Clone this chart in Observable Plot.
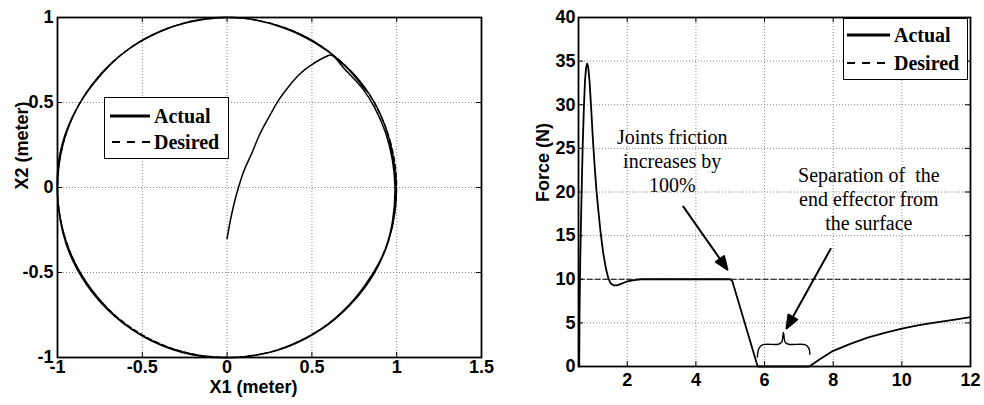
<!DOCTYPE html>
<html><head><meta charset="utf-8">
<script src="https://cdn.jsdelivr.net/npm/d3@7"></script>
<script src="https://cdn.jsdelivr.net/npm/@observablehq/plot@0.6"></script>
<style>
html,body{margin:0;padding:0;background:#fff;}
#wrap{position:relative;width:984px;height:405px;overflow:hidden;background:#fff;}
#left{position:absolute;left:0;top:0;}
#right{position:absolute;left:500px;top:0;}
#wrap svg{overflow:visible;}
.legend{position:absolute;background:#fff;border:1.5px solid #000;box-sizing:border-box;font:bold 20px "Liberation Serif","Times New Roman",serif;color:#000;}
.legend .row{position:absolute;left:0;right:0;height:26px;}
.legend .row svg{position:absolute;top:0;}
.legend .row span{position:absolute;top:0;line-height:26px;white-space:nowrap;}
</style></head>
<body>
<div id="wrap">
  <div id="left"></div>
  <div id="right"></div>
</div>
<script>
// ---------- Left panel data ----------
const leftXTicks = [-1, -0.5, 0, 0.5, 1, 1.5];
const leftYTicks = [-1, -0.5, 0, 0.5, 1];
// desired circular path
const desiredX1 = [1, 0.966, 0.866, 0.707, 0.5, 0.259, 0, -0.259, -0.5, -0.707, -0.866, -0.966, -1, -0.966, -0.866, -0.707, -0.5, -0.259, 0, 0.259, 0.5, 0.707, 0.866, 0.966];
const desiredX2 = [0, 0.259, 0.5, 0.707, 0.866, 0.966, 1, 0.966, 0.866, 0.707, 0.5, 0.259, 0, -0.259, -0.5, -0.707, -0.866, -0.966, -1, -0.966, -0.866, -0.707, -0.5, -0.259];
// actual trajectory (approach + loops)
const actualX1 = [0, 0.018, 0.04, 0.067, 0.1, 0.145, 0.194, 0.25, 0.303, 0.36, 0.411, 0.46, 0.509, 0.578, 0.617,
  0.69, 0.80, 0.87, 0.935, 0.975, 0.99, 0.975, 0.93, 0.85, 0.72, 0.55, 0.3, 0.05, -0.2, -0.45, -0.66, -0.83, -0.95, -1.0, -0.985, -0.91, -0.78, -0.6, -0.38, -0.13, 0.1, 0.33, 0.52, 0.66,
  0.78, 0.89, 0.96, 0.995, 0.99, 0.95, 0.87, 0.74, 0.57, 0.35, 0.1, -0.15, -0.4, -0.62, -0.8, -0.93, -0.995, -0.99, -0.93, -0.8, -0.62, -0.4, -0.15, 0.1, 0.35, 0.55, 0.7, 0.82];
const actualX2 = [-0.3, -0.2, -0.1, 0.0, 0.1, 0.2, 0.316, 0.42, 0.513, 0.59, 0.65, 0.695, 0.729, 0.768, 0.778,
  0.70, 0.58, 0.47, 0.32, 0.16, 0, -0.2, -0.37, -0.52, -0.69, -0.835, -0.955, -1.0, -0.985, -0.9, -0.76, -0.57, -0.33, -0.05, 0.2, 0.42, 0.62, 0.8, 0.925, 0.99, 0.995, 0.94, 0.85, 0.75,
  0.63, 0.46, 0.27, 0.06, -0.14, -0.32, -0.5, -0.675, -0.825, -0.94, -0.995, -0.99, -0.92, -0.79, -0.6, -0.37, -0.1, 0.14, 0.37, 0.6, 0.785, 0.915, 0.99, 0.995, 0.935, 0.835, 0.71, 0.57];

// ---------- Right panel data ----------
const rightXTicks = [2, 4, 6, 8, 10, 12];
const rightYTicks = [0, 5, 10, 15, 20, 25, 30, 35, 40];
const forceTime = [0.6, 0.61, 0.63, 0.66, 0.7, 0.74, 0.77, 0.8, 0.83, 0.86, 0.9, 0.95, 1.0, 1.05, 1.1, 1.16, 1.22, 1.3, 1.38, 1.45, 1.52, 1.6, 1.7, 1.8, 1.9, 2.0, 2.2, 2.4, 3.0, 4.0, 5.0, 5.06, 5.8, 6.5, 7.3, 7.6, 8, 8.5, 9, 9.5, 10, 10.5, 11, 11.5, 12];
const forceActual = [0, 6, 12, 18, 25, 30, 32.8, 34.2, 34.7, 34.4, 32.8, 29.5, 26, 23, 20.3, 17.8, 15.5, 13, 11.2, 10.1, 9.5, 9.3, 9.3, 9.45, 9.6, 9.75, 9.9, 10, 10, 10, 10, 9.8, 0, 0, 0, 0.8, 1.8, 2.6, 3.3, 3.85, 4.35, 4.75, 5.05, 5.35, 5.65];
const desiredTime = [0.6, 12];
const desiredForce = [10, 10];
// annotations
const noteText = ["Joints friction\nincreases by\n100%", "Separation of  the\nend effector from\nthe surface"];
const noteX = [3.31, 9.04];
const noteY = [23.6, 19.3];
const arrowTipX = [4.92, 6.64];
const arrowTipY = [11.1, 4.36];
const arrowLen = [77, 91];
const arrowRot = [145, 209];
const braceX = [5.79, 5.84, 5.95, 6.4, 6.5, 6.55, 6.6, 6.7, 7.18, 7.29, 7.32];
const braceY = [1.1, 2.1, 2.5, 2.55, 2.8, 3.9, 2.8, 2.55, 2.5, 2.1, 1.4];

const fmt = d => String(d);
const baseStyle = {fontFamily: '"Liberation Sans", Arial, sans-serif', fontSize: "18px", fontWeight: "bold", color: "#000", background: "#fff", overflow: "visible"};
const gridOpts = {stroke: "#888", strokeOpacity: 1, strokeDasharray: "1,2", strokeWidth: 1};
const serif = '"Liberation Serif", "Times New Roman", serif';

// ---------- Left plot ----------
const desiredCircle = desiredX1.map((x, i) => ({x, y: desiredX2[i]}));
const actualPath = actualX1.map((x, i) => ({x, y: actualX2[i]}));
const LW = 500, LH = 405, Lml = 57, Lmr = 19, Lmt = 17, Lmb = 48;
const Lpw = LW - Lml - Lmr, Lph = LH - Lmt - Lmb;
const left = Plot.plot({
  width: LW, height: LH, marginLeft: Lml, marginRight: Lmr, marginTop: Lmt, marginBottom: Lmb,
  x: {domain: [-1, 1.5]}, y: {domain: [-1, 1]},
  style: baseStyle,
  marks: [
    Plot.gridX(leftXTicks.slice(1, -1), gridOpts),
    Plot.gridY(leftYTicks.slice(1, -1), gridOpts),
    Plot.tickX(leftXTicks, {x: d => d, insetTop: Lph - 5, stroke: "#000"}),
    Plot.tickX(leftXTicks, {x: d => d, insetBottom: Lph - 5, stroke: "#000"}),
    Plot.tickY(leftYTicks, {y: d => d, insetRight: Lpw - 5, stroke: "#000"}),
    Plot.tickY(leftYTicks, {y: d => d, insetLeft: Lpw - 5, stroke: "#000"}),
    Plot.line(desiredCircle, {x: "x", y: "y", curve: "catmull-rom-closed", stroke: "#000", strokeWidth: 1.2, strokeDasharray: "5,3"}),
    Plot.line(actualPath, {x: "x", y: "y", curve: "catmull-rom", stroke: "#000", strokeWidth: 1.5}),
    Plot.axisX(leftXTicks, {tickSize: 0, tickPadding: 3, tickFormat: fmt, label: null}),
    Plot.axisY(leftYTicks, {tickSize: 0, tickPadding: 4, tickFormat: fmt, label: null}),
    Plot.frame({stroke: "#000", strokeWidth: 1.8}),
    Plot.text(["X1 (meter)"], {text: d => d, frameAnchor: "bottom", dy: 35, dx: -16, fontSize: 18, fontWeight: "bold"}),
    Plot.text(["X2 (meter)"], {text: d => d, frameAnchor: "left", rotate: -90, dx: -35, dy: 2, fontSize: 18, fontWeight: "bold"})
  ]
});
document.getElementById("left").appendChild(left);

// ---------- Right plot ----------
const forceData = forceTime.map((t, i) => ({t, f: forceActual[i]}));
const desiredData = desiredTime.map((t, i) => ({t, f: desiredForce[i]}));
const notes = noteText.map((s, i) => ({s, x: noteX[i], y: noteY[i]}));
const arrows = arrowTipX.map((x, i) => ({x, y: arrowTipY[i], len: arrowLen[i], rot: arrowRot[i]}));
const brace = braceX.map((x, i) => ({x, y: braceY[i]}));
const arrowShape = {
  draw(context, l) {
    const h = 13, w = 5;
    context.moveTo(0, 0);
    context.lineTo(0, -l + h);
    context.moveTo(0, -l);
    context.lineTo(w, -l + h);
    context.lineTo(-w, -l + h);
    context.closePath();
  }
};
const RW = 484, RH = 405, Rml = 78, Rmr = 14, Rmt = 17, Rmb = 39;
const Rpw = RW - Rml - Rmr, Rph = RH - Rmt - Rmb;
const right = Plot.plot({
  width: RW, height: RH, marginLeft: Rml, marginRight: Rmr, marginTop: Rmt, marginBottom: Rmb,
  x: {domain: [0.58, 12]}, y: {domain: [0, 40]},
  length: {type: "identity"},
  style: baseStyle,
  marks: [
    Plot.gridX(rightXTicks.slice(0, -1), gridOpts),
    Plot.gridY(rightYTicks.slice(1, -1), gridOpts),
    Plot.tickX(rightXTicks, {x: d => d, insetTop: Rph - 5, stroke: "#000"}),
    Plot.tickX(rightXTicks, {x: d => d, insetBottom: Rph - 5, stroke: "#000"}),
    Plot.tickY(rightYTicks, {y: d => d, insetRight: Rpw - 5, stroke: "#000"}),
    Plot.tickY(rightYTicks, {y: d => d, insetLeft: Rpw - 5, stroke: "#000"}),
    Plot.line(desiredData, {x: "t", y: "f", stroke: "#000", strokeWidth: 1.2, strokeDasharray: "5,3"}),
    Plot.line(forceData, {x: "t", y: "f", curve: "linear", stroke: "#000", strokeWidth: 1.8, strokeLinejoin: "round"}),
    Plot.line(brace, {x: "x", y: "y", curve: "catmull-rom", stroke: "#000", strokeWidth: 1.4}),
    Plot.vector(arrows, {x: "x", y: "y", length: "len", rotate: "rot", anchor: "end", shape: arrowShape, stroke: "#000", fill: "#000", strokeWidth: 2}),
    Plot.text(notes, {x: "x", y: "y", text: "s", lineHeight: 1.2, fontFamily: serif, fontSize: 20, fontWeight: "normal", fill: "#000"}),
    Plot.axisX(rightXTicks, {tickSize: 0, tickPadding: 7, tickFormat: fmt, label: null}),
    Plot.axisY(rightYTicks, {tickSize: 0, tickPadding: 3, tickFormat: fmt, label: null}),
    Plot.frame({stroke: "#000", strokeWidth: 1.8}),
    Plot.text(["Force (N)"], {text: d => d, frameAnchor: "left", rotate: -90, dx: -35, dy: 10, fontSize: 18, fontWeight: "bold"})
  ]
});
d3.select(right).selectAll("text")
  .filter(function() { return /Joints|Separation/.test(this.textContent); })
  .each(function() {
    d3.select(this).attr("font-family", serif).attr("font-weight", "normal")
      .style("font-family", serif).style("font-weight", "normal");
    d3.select(this).selectAll("tspan").style("font-family", serif).style("font-weight", "normal");
  });
document.getElementById("right").appendChild(right);

// ---------- Legends ----------
function legend(left, top, w, h, rows) {
  const div = document.createElement("div");
  div.className = "legend";
  Object.assign(div.style, {left: left + "px", top: top + "px", width: w + "px", height: h + "px"});
  rows.forEach(r => {
    const row = document.createElement("div");
    row.className = "row";
    row.style.top = r.top + "px";
    row.innerHTML = `<svg width="${r.lineW}" height="26" style="left:${r.lineX}px"><line x1="0" x2="${r.lineW}" y1="13" y2="13" stroke="#000" stroke-width="${r.dash ? 2 : 3}" ${r.dash ? 'stroke-dasharray="8,7"' : ''}/></svg><span style="left:${r.textX}px">${r.label}</span>`;
    div.appendChild(row);
  });
  document.getElementById("wrap").appendChild(div);
}
legend(104, 97, 125, 62, [
  {top: 5, lineX: 5, lineW: 40, textX: 49, label: "Actual", dash: false},
  {top: 31, lineX: 7, lineW: 38, textX: 49, label: "Desired", dash: true}
]);
legend(843, 18, 125, 62, [
  {top: 3, lineX: 3, lineW: 43, textX: 50, label: "Actual", dash: false},
  {top: 31, lineX: 3, lineW: 43, textX: 50, label: "Desired", dash: true}
]);
</script>
</body></html>
